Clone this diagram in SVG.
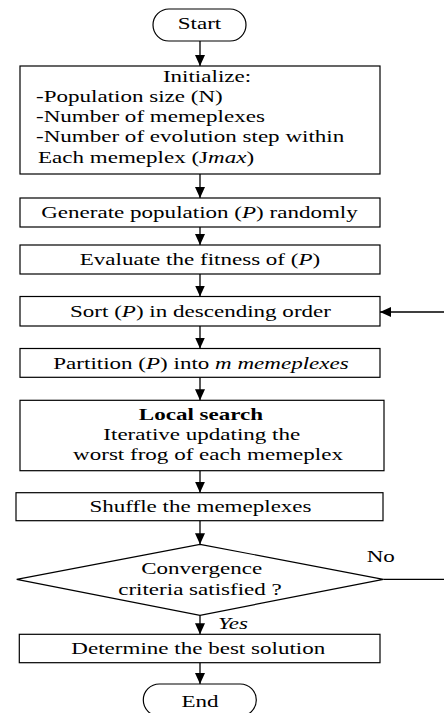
<svg xmlns="http://www.w3.org/2000/svg" width="444" height="713" viewBox="0 0 444 713">
<defs>
<style>
.box{fill:#fff;stroke:#000;stroke-width:1.2}
.ln{fill:none;stroke:#000;stroke-width:1.3}
text{font-family:"Liberation Serif","Times New Roman",serif;font-size:17px;fill:#000}
.c{text-anchor:middle}
.i{font-style:italic}
.b{font-weight:bold}
</style>
<marker id="ah" markerUnits="userSpaceOnUse" markerWidth="11" markerHeight="10" refX="11" refY="5" orient="auto">
<path d="M0,0 L11,5 L0,10 z" fill="#000"/>
</marker>
</defs>
<rect width="444" height="713" fill="#fff"/>
<g id="connectors">
<line class="ln" x1="200" y1="41" x2="200" y2="66" marker-end="url(#ah)"/>
<line class="ln" x1="200" y1="174" x2="200" y2="198" marker-end="url(#ah)"/>
<line class="ln" x1="200" y1="227" x2="200" y2="245" marker-end="url(#ah)"/>
<line class="ln" x1="200" y1="274" x2="200" y2="296.5" marker-end="url(#ah)"/>
<line class="ln" x1="200" y1="326" x2="200" y2="348.5" marker-end="url(#ah)"/>
<line class="ln" x1="200" y1="377.3" x2="200" y2="400.3" marker-end="url(#ah)"/>
<line class="ln" x1="200" y1="470.7" x2="200" y2="492.7" marker-end="url(#ah)"/>
<line class="ln" x1="200" y1="520.7" x2="200" y2="544.3" marker-end="url(#ah)"/>
<line class="ln" x1="200" y1="615.3" x2="200" y2="634.3" marker-end="url(#ah)"/>
<line class="ln" x1="200" y1="662.7" x2="200" y2="684" marker-end="url(#ah)"/>
<path class="ln" d="M383.3,579.3 H470 V312 H380" marker-end="url(#ah)"/>
<text class="i" transform="translate(218,629) scale(1.355,1)">Yes</text>
<text transform="translate(366.7,561.7) scale(1.355,1)">No</text>
</g>
<g id="start">
<rect class="box" x="153" y="9" width="93" height="32" rx="16" ry="16"/>
<text class="c" transform="translate(199.5,28.5) scale(1.355,1)">Start</text>
</g>
<g id="init">
<rect class="box" x="20" y="66" width="360" height="108"/>
<text class="c" transform="translate(207,82) scale(1.355,1)">Initialize:</text>
<text transform="translate(36,102) scale(1.355,1)">-Population size (N)</text>
<text transform="translate(36,122) scale(1.355,1)">-Number of memeplexes</text>
<text transform="translate(36,142) scale(1.355,1)">-Number of evolution step within</text>
<text transform="translate(38,163) scale(1.355,1)">Each memeplex (J<tspan class="i">max</tspan>)</text>
</g>
<g id="generate">
<rect class="box" x="20" y="198" width="360" height="29"/>
<text class="c" transform="translate(199.5,218) scale(1.355,1)">Generate population (<tspan class="i">P</tspan>) randomly</text>
</g>
<g id="evaluate">
<rect class="box" x="20" y="245" width="360" height="29"/>
<text class="c" transform="translate(200,265) scale(1.355,1)">Evaluate the fitness of (<tspan class="i">P</tspan>)</text>
</g>
<g id="sort">
<rect class="box" x="20" y="296.5" width="360" height="29.5"/>
<text class="c" transform="translate(200.5,317) scale(1.355,1)">Sort (<tspan class="i">P</tspan>) in descending order</text>
</g>
<g id="partition">
<rect class="box" x="20" y="348.5" width="360" height="28.8"/>
<text class="c" transform="translate(201,369) scale(1.355,1)">Partition (<tspan class="i">P</tspan>) into <tspan class="i">m memeplexes</tspan></text>
</g>
<g id="local">
<rect class="box" x="20" y="400.3" width="364" height="70.4"/>
<text class="c b" transform="translate(201,420) scale(1.355,1)">Local search</text>
<text class="c" transform="translate(201.8,440) scale(1.355,1)">Iterative updating the</text>
<text class="c" transform="translate(208,460) scale(1.355,1)">worst frog of each memeplex</text>
</g>
<g id="shuffle">
<rect class="box" x="16" y="492.7" width="367" height="28"/>
<text class="c" transform="translate(200.5,512) scale(1.355,1)">Shuffle the memeplexes</text>
</g>
<g id="decision">
<polygon class="box" points="200,544.3 383.3,579.3 200,615.3 16.7,579.3"/>
<text class="c" transform="translate(201.7,574.3) scale(1.355,1)">Convergence</text>
<text class="c" transform="translate(200,595) scale(1.355,1)">criteria satisfied ?</text>
</g>
<g id="determine">
<rect class="box" x="19.3" y="634.3" width="360.7" height="28.4"/>
<text class="c" transform="translate(198.3,654.3) scale(1.355,1)">Determine the best solution</text>
</g>
<g id="end">
<rect class="box" x="143.3" y="684" width="113" height="32" rx="16" ry="16"/>
<text class="c" transform="translate(200,706.5) scale(1.355,1)">End</text>
</g>
</svg>
